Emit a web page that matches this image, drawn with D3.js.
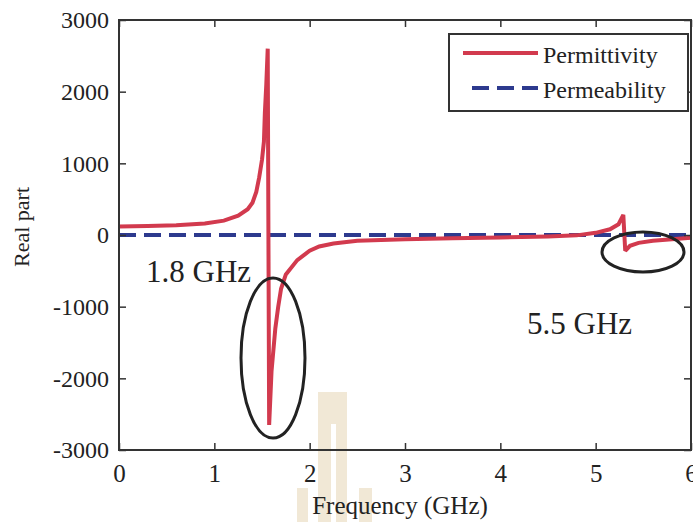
<!DOCTYPE html>
<html>
<head>
<meta charset="utf-8">
<script src="https://cdn.jsdelivr.net/npm/d3@7"></script>
<style>
  body { margin: 0; background: #fff; }
  svg { display: block; }
  svg text { font-family: "Liberation Serif", "DejaVu Serif", serif !important; fill: #222; }
</style>
</head>
<body>
<div id="chart"></div>
<script>
// data
const freq = [0, 0.3, 0.6, 0.9, 1.1, 1.25, 1.35, 1.40, 1.44, 1.47, 1.50, 1.52, 1.53, 1.545, 1.56, 1.575,
              1.60, 1.64, 1.67, 1.70, 1.75, 1.87, 2.0, 2.1, 2.25, 2.5, 3.0, 3.5, 4.0, 4.5, 4.8,
              5.0, 5.15, 5.24, 5.29, 5.31, 5.36, 5.45, 5.6, 5.8, 6.0];
const permittivity = [120, 125, 135, 160, 200, 270, 360, 450, 600, 800, 1050, 1300, 1700, 2100, 2600, -2650,
              -1900, -1300, -1000, -750, -550, -350, -220, -160, -120, -80, -60, -45, -35, -20, -5,
              30, 80, 150, 280, -220, -150, -110, -80, -60, -40];
const muFreq = [0, 1.5, 1.6, 3, 5.3, 6];
const permeability = [0, 0, 0, 0, 0, 0];

const xTicks = [0, 1, 2, 3, 4, 5, 6];
const yTicks = [-3000, -2000, -1000, 0, 1000, 2000, 3000];
const seriesNames = ["Permittivity", "Permeability"];

const width = 693, height = 522;
const plotLeft = 119, plotRight = 691, plotTop = 20, plotBottom = 450;
const red = "#d23a4e", blue = "#2d3a8e";

const svg = d3.select("#chart").append("svg")
    .attr("width", width)
    .attr("height", height)
    .attr("font-family", "'Liberation Serif', serif");

const x = d3.scaleLinear().domain([0, 6]).range([plotLeft, plotRight]);
const y = d3.scaleLinear().domain([-3000, 3000]).range([plotBottom, plotTop]);

// faint watermark logo behind the axis
const wm = svg.append("g").attr("fill", "#f1e8d6");
wm.append("rect").attr("x", 318).attr("y", 392).attr("width", 29).attr("height", 130);
wm.append("rect").attr("x", 331).attr("y", 424).attr("width", 5).attr("height", 98).attr("fill", "#fff");
wm.append("rect").attr("x", 297).attr("y", 488).attr("width", 11).attr("height", 34);
wm.append("rect").attr("x", 359).attr("y", 488).attr("width", 13).attr("height", 34);

// curves
const line = d3.line().x(d => x(d[0])).y(d => y(d[1]));

svg.append("path")
    .datum(muFreq.map((f, i) => [f, permeability[i]]))
    .attr("d", line)
    .attr("fill", "none")
    .attr("stroke", blue)
    .attr("stroke-width", 4)
    .attr("stroke-dasharray", "17,8");

svg.append("path")
    .datum(freq.map((f, i) => [f, permittivity[i]]))
    .attr("d", line)
    .attr("fill", "none")
    .attr("stroke", red)
    .attr("stroke-width", 4)
    .attr("stroke-linejoin", "miter")
    .attr("stroke-miterlimit", 2);

// axes box with inward ticks
const axisColor = "#333";
const styleAxis = g => {
    g.attr("font-family", "'Liberation Serif', serif");
    g.select(".domain").remove();
    g.selectAll(".tick line").attr("stroke", axisColor).attr("stroke-width", 1.5);
    g.selectAll(".tick text").attr("fill", "#333");
};

svg.append("g")
    .attr("transform", `translate(0,${plotBottom})`)
    .call(d3.axisBottom(x).tickValues(xTicks).tickFormat(d => String(d)).tickSize(-7).tickPadding(14))
    .call(styleAxis)
    .selectAll(".tick text").style("font-size", "25px");

svg.append("g")
    .attr("transform", `translate(0,${plotTop})`)
    .call(d3.axisTop(x).tickValues(xTicks).tickFormat("").tickSize(-7))
    .call(styleAxis);

svg.append("g")
    .attr("transform", `translate(${plotLeft},0)`)
    .call(d3.axisLeft(y).tickValues(yTicks).tickFormat(d => String(d)).tickSize(-7).tickPadding(10))
    .call(styleAxis)
    .selectAll(".tick text").style("font-size", "24px");

svg.append("g")
    .attr("transform", `translate(${plotRight},0)`)
    .call(d3.axisRight(y).tickValues(yTicks).tickFormat("").tickSize(-7))
    .call(styleAxis);

svg.append("rect")
    .attr("x", plotLeft).attr("y", plotTop)
    .attr("width", plotRight - plotLeft).attr("height", plotBottom - plotTop)
    .attr("fill", "none")
    .attr("stroke", axisColor)
    .attr("stroke-width", 2);

// axis labels
svg.append("text")
    .attr("x", 400).attr("y", 514)
    .attr("text-anchor", "middle")
    .style("font-size", "25px")
    .text("Frequency (GHz)");

svg.append("text")
    .attr("transform", `translate(29,227) rotate(-90)`)
    .attr("text-anchor", "middle")
    .style("font-size", "22px")
    .text("Real part");

// legend
const legend = svg.append("g");
legend.append("rect")
    .attr("x", 449).attr("y", 34)
    .attr("width", 239).attr("height", 77)
    .attr("fill", "#fff")
    .attr("stroke", axisColor)
    .attr("stroke-width", 2);

legend.append("line")
    .attr("x1", 463).attr("x2", 538).attr("y1", 53).attr("y2", 53)
    .attr("stroke", red).attr("stroke-width", 4);
legend.append("line")
    .attr("x1", 472).attr("x2", 538).attr("y1", 88).attr("y2", 88)
    .attr("stroke", blue).attr("stroke-width", 4)
    .attr("stroke-dasharray", "17,8");

legend.selectAll(".lab")
    .data(seriesNames)
    .enter()
    .append("text")
    .attr("x", 543)
    .attr("y", (d, i) => 63 + i * 35)
    .style("font-size", "24px")
    .text(d => d);

// annotations
svg.append("text")
    .attr("x", 146).attr("y", 282)
    .style("font-size", "31px")
    .text("1.8 GHz");

svg.append("text")
    .attr("x", 527).attr("y", 334)
    .style("font-size", "31px")
    .text("5.5 GHz");

svg.append("ellipse")
    .attr("cx", 273).attr("cy", 358).attr("rx", 32).attr("ry", 80)
    .attr("fill", "none").attr("stroke", "#222").attr("stroke-width", 3);

svg.append("ellipse")
    .attr("cx", 643).attr("cy", 252).attr("rx", 41).attr("ry", 20)
    .attr("fill", "none").attr("stroke", "#222").attr("stroke-width", 3);
</script>
</body>
</html>
